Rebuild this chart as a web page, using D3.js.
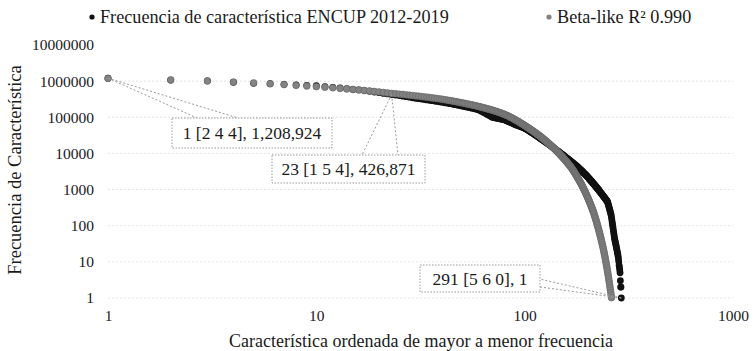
<!DOCTYPE html>
<html>
<head>
<meta charset="utf-8">
<script src="https://cdn.jsdelivr.net/npm/d3@7"></script>
<style>
  html, body { margin: 0; padding: 0; background: #fff; }
  svg { display: block; font-family: "Liberation Serif", "Times New Roman", serif; }
</style>
</head>
<body>
<svg id="chart" width="755" height="351"></svg>
<script>
// Frequency of each characteristic (ENCUP 2012-2019), ordered from most to least frequent (rank = index + 1)
const frecuencia = [
  1208924, 1071350, 1019870, 931204, 872315, 851027, 815660, 784912, 767305, 749881,
  707514, 676230, 645918, 616744, 589302, 574861, 549327, 524906, 501338, 479025,
  457190, 441873, 426871, 412000, 398000, 385000, 372000, 359000, 347000, 335000,
  327000, 319000, 311000, 303000, 296000, 289000, 282000, 275000, 268500, 262000,
  255500, 249400, 243200, 237700, 231700, 225900, 220800, 215300, 210400, 205100,
  200400, 195900, 191400, 187100, 182800, 178600, 174600, 170600, 166700, 162900,
  155200, 147900, 140600, 134000, 127600, 121600, 115900, 110200, 105000, 99930,
  98320, 96750, 95200, 93680, 92180, 90700, 89250, 87820, 86410, 85030,
  82520, 80090, 77730, 75440, 73210, 71050, 68960, 66920, 64950, 63030,
  61590, 60190, 58820, 57480, 56170, 54890, 53640, 52420, 51220, 50050,
  48350, 46710, 45120, 43590, 42110, 40680, 39290, 37960, 36670, 35420,
  34220, 33050, 31930, 30850, 29800, 28780, 27810, 26860, 25950, 25070,
  24280, 23500, 22760, 22040, 21340, 20660, 20010, 19370, 18760, 18160,
  17590, 17030, 16490, 15970, 15460, 14970, 14500, 14040, 13590, 13160,
  12770, 12400, 12030, 11680, 11330, 11000, 10670, 10360, 10050, 9756,
  9468, 9189, 8918, 8655, 8400, 8152, 7912, 7678, 7452, 7232,
  7035, 6843, 6656, 6474, 6297, 6125, 5958, 5795, 5637, 5483,
  5333, 5188, 5046, 4908, 4774, 4644, 4517, 4394, 4274, 4157,
  4034, 3915, 3800, 3688, 3579, 3473, 3371, 3271, 3175, 3081,
  2990, 2902, 2816, 2733, 2653, 2574, 2498, 2425, 2353, 2284,
  2211, 2141, 2073, 2007, 1944, 1882, 1822, 1765, 1709, 1655,
  1602, 1551, 1502, 1455, 1408, 1364, 1321, 1279, 1238, 1199,
  1161, 1124, 1089, 1054, 1021, 988, 957, 927, 897, 869,
  841, 815, 789, 764, 740, 716, 693, 671, 650, 630,
  610, 591, 572, 554, 536, 519, 503, 487, 472, 457,
  421, 387, 356, 328, 302, 278, 256, 235, 217, 199,
  172, 148, 127, 110, 94, 81, 70, 60, 52, 45,
  40, 36, 33, 30, 27, 24, 22, 19, 18, 16,
  14, 12, 10, 8, 7, 6, 5, 3, 2, 2,
  1
];

// Beta-like fitted frequency by rank (values below 1 fall off the log axis)
const betaLike = [
  1189000, 1084000, 1012000, 944000, 891000, 841000, 804000, 767000, 733000, 705000,
  679000, 655000, 631000, 610000, 589000, 570000, 552000, 535000, 518000, 502000,
  488000, 473000, 459000, 449000, 439000, 429000, 419000, 409000, 400000, 391000,
  383000, 375000, 367000, 360000, 352000, 344000, 337000, 330000, 324000, 316000,
  309000, 302000, 295000, 288000, 282000, 275000, 269000, 263000, 257000, 251000,
  245000, 240000, 234000, 229000, 224000, 219000, 214000, 209000, 204000, 200000,
  195000, 190000, 186000, 182000, 177000, 173000, 169000, 165000, 161000, 157000,
  153000, 149000, 146000, 142000, 138000, 134000, 131000, 127000, 124000, 120000,
  116000, 113000, 110000, 106000, 102000, 98900, 95500, 92300, 88900, 85700,
  82600, 79600, 76700, 74000, 71300, 68700, 66200, 63800, 61500, 59300,
  57100, 55100, 53100, 51200, 49300, 47500, 45800, 44200, 42600, 41000,
  39500, 38100, 36700, 35400, 34100, 32900, 31700, 30500, 29400, 28400,
  27300, 26200, 25200, 24300, 23300, 22400, 21600, 20700, 19950, 19190,
  18450, 17740, 17060, 16410, 15780, 15170, 14590, 14030, 13490, 12970,
  12470, 11970, 11480, 11020, 10570, 10140, 9730, 9330, 8950, 8590,
  8240, 7910, 7590, 7280, 6980, 6700, 6410, 6140, 5870, 5620,
  5380, 5150, 4930, 4720, 4520, 4330, 4140, 3940, 3740, 3560,
  3380, 3210, 3040, 2880, 2740, 2590, 2460, 2330, 2210, 2090,
  1980, 1870, 1770, 1680, 1590, 1500, 1420, 1330, 1260, 1180,
  1110, 1050, 984, 925, 869, 817, 766, 718, 673, 631,
  590, 552, 516, 483, 451, 421, 393, 366, 340, 317,
  295, 274, 255, 237, 218, 200, 184, 169, 155, 142,
  130, 119, 109, 99.1, 90.4, 82.2, 74.8, 67.9, 61.7, 55.8,
  50.6, 45.7, 41.3, 37.2, 33.6, 30.2, 27.2, 24.4, 21.8, 19.4,
  17.3, 15.3, 13.6, 12.0, 10.5, 9.27, 8.13, 7.11, 6.21, 5.41,
  4.70, 4.07, 3.52, 3.04, 2.62, 2.25, 1.93, 1.65, 1.41, 1.20,
  1.02
];

const xTicks = [1, 10, 100, 1000];
const yTicks = [1, 10, 100, 1000, 10000, 100000, 1000000, 10000000];

const seriesNames = ["Frecuencia de característica ENCUP 2012-2019", "Beta-like R\u00B2 0.990"];
const xTitle = "Característica ordenada de mayor a menor frecuencia";
const yTitle = "Frecuencia de Característica";

// Callouts: rank of the characteristic and its code
const calloutRanks = [1, 23, 291];
const calloutCodes = ["[2 4 4]", "[1 5 4]", "[5 6 0]"];

const svg = d3.select("#chart");
const serif = "'Liberation Serif', 'Times New Roman', serif";
const ink = "#1a1a1a";

const x = d3.scaleLog().domain([1, 1000]).range([108, 733]);
const y = d3.scaleLog().domain([1, 1e7]).range([298, 45]);

const black = "#111111";
const grey = "#838383";

// Faint horizontal gridlines at each decade
svg.append("g")
  .selectAll("line")
  .data(yTicks.filter(d => d < 1e7))
  .join("line")
  .attr("x1", x(1)).attr("x2", x(1000))
  .attr("y1", d => y(d)).attr("y2", d => y(d))
  .attr("stroke", "#e4e4e4")
  .attr("stroke-width", 1)
  .attr("stroke-dasharray", "2,2");

// Y axis (labels only)
const yAxis = d3.axisLeft(y).tickValues(yTicks).tickFormat(d3.format("d")).tickSize(0).tickPadding(0);
svg.append("g")
  .attr("transform", `translate(94,0)`)
  .call(yAxis)
  .call(g => g.select(".domain").remove())
  .selectAll("text")
  .attr("font-family", serif)
  .attr("font-size", 15.5)
  .attr("fill", ink);

// X axis (labels only)
const xAxis = d3.axisBottom(x).tickValues(xTicks).tickFormat(d3.format("d")).tickSize(0).tickPadding(0);
svg.append("g")
  .attr("transform", `translate(0,310)`)
  .call(xAxis)
  .call(g => g.select(".domain").remove())
  .selectAll("text")
  .attr("font-family", serif)
  .attr("font-size", 15.5)
  .attr("fill", ink);

// Axis titles
svg.append("text")
  .attr("x", 421).attr("y", 347)
  .attr("text-anchor", "middle")
  .attr("font-size", 18)
  .attr("fill", ink)
  .text(xTitle);

svg.append("text")
  .attr("transform", "translate(21,170) rotate(-90)")
  .attr("text-anchor", "middle")
  .attr("font-size", 18.5)
  .attr("fill", ink)
  .text(yTitle);

// Data series
const r = 3.4;
svg.append("g")
  .selectAll("circle")
  .data(frecuencia)
  .join("circle")
  .attr("cx", (d, i) => x(i + 1))
  .attr("cy", d => y(d))
  .attr("r", r)
  .attr("fill", black);

svg.append("g")
  .selectAll("circle")
  .data(betaLike.filter(d => d >= 1))
  .join("circle")
  .attr("cx", (d, i) => x(i + 1))
  .attr("cy", d => y(d))
  .attr("r", r)
  .attr("fill", grey)
  .attr("stroke", "#5e5e5e")
  .attr("stroke-width", 0.5);

// Legend
const legend = [
  { name: seriesNames[0], color: black, dot: 92, tx: 100 },
  { name: seriesNames[1], color: grey, dot: 549, tx: 557 }
];
const lg = svg.append("g");
lg.selectAll("circle").data(legend).join("circle")
  .attr("cx", d => d.dot).attr("cy", 17).attr("r", 2.6).attr("fill", d => d.color);
lg.selectAll("text").data(legend).join("text")
  .attr("x", d => d.tx).attr("y", 23)
  .attr("font-size", 18.2)
  .attr("fill", ink)
  .text(d => d.name);

// Callouts with wedge leaders
const fmt = d3.format(",");
const boxes = [
  { x0: 172, y0: 118, x1: 332, y1: 148, wedge: [[197, 118], [238, 118]] },
  { x0: 272, y0: 155, x1: 425, y1: 183, wedge: [[362, 155], [398, 155]] },
  { x0: 420, y0: 265, x1: 540, y1: 292, wedge: [[540, 279], [540, 287]] }
];
const cg = svg.append("g");
calloutRanks.forEach((rank, k) => {
  const v = frecuencia[rank - 1];
  const px = x(rank), py = y(v);
  const b = boxes[k];
  b.wedge.forEach(([wx, wy]) => {
    cg.append("line")
      .attr("x1", px).attr("y1", py).attr("x2", wx).attr("y2", wy)
      .attr("stroke", "#9a9a9a").attr("stroke-width", 1)
      .attr("stroke-dasharray", "2,2");
  });
  cg.append("rect")
    .attr("x", b.x0).attr("y", b.y0)
    .attr("width", b.x1 - b.x0).attr("height", b.y1 - b.y0)
    .attr("fill", "#fff")
    .attr("stroke", "#9a9a9a").attr("stroke-width", 1)
    .attr("stroke-dasharray", "1.5,1.5");
  cg.append("text")
    .attr("x", (b.x0 + b.x1) / 2).attr("y", (b.y0 + b.y1) / 2 + 6)
    .attr("text-anchor", "middle")
    .attr("font-size", 17.5)
    .attr("fill", ink)
    .text(`${rank} ${calloutCodes[k]}, ${fmt(v)}`);
});
</script>
</body>
</html>
